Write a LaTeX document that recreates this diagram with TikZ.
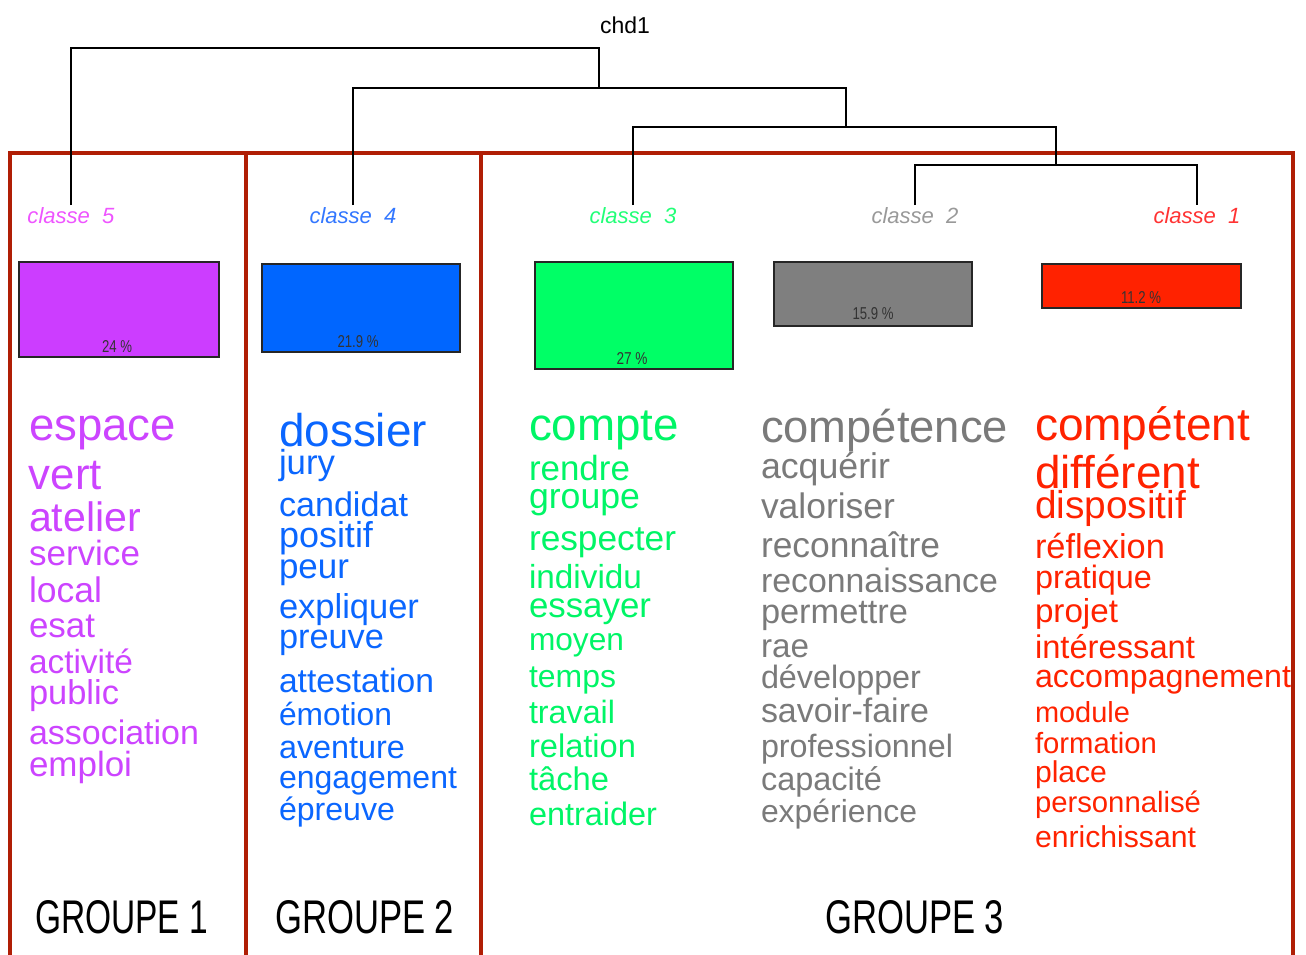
\documentclass[tikz,border=0pt]{standalone}
\usepackage{fontspec}
\setmainfont{Liberation Sans}
\usepackage{graphicx}
\definecolor{framecol}{HTML}{B01E05}
\definecolor{boxA}{HTML}{CC3DFF}
\definecolor{boxB}{HTML}{0066FF}
\definecolor{boxC}{HTML}{00FF66}
\definecolor{boxD}{HTML}{7F7F7F}
\definecolor{boxE}{HTML}{FF2200}
\definecolor{txtA}{HTML}{CC44FF}
\definecolor{txtB}{HTML}{0A66FF}
\definecolor{txtC}{HTML}{00F566}
\definecolor{txtD}{HTML}{7A7A7A}
\definecolor{txtE}{HTML}{FF2200}
\definecolor{labA}{HTML}{EE55FF}
\definecolor{labB}{HTML}{3377FF}
\definecolor{labC}{HTML}{22FF77}
\definecolor{labD}{HTML}{999999}
\definecolor{labE}{HTML}{FF3333}
\begin{document}
\begin{tikzpicture}[x=1pt,y=-1pt,
  wd/.style={anchor=base west,inner sep=0pt,outer sep=0pt,font=\fontsize{40}{40}\selectfont},
  clab/.style={anchor=base,inner sep=0pt,font=\fontsize{22}{22}\selectfont\itshape},
  pct/.style={inner sep=0pt,text=black!80,font=\fontsize{12}{12}\selectfont},
  bar/.style={draw=black!85,line width=1.6pt},
  tree/.style={draw=black,line width=1.3pt},
  frame/.style={draw=framecol,line width=3.6pt},
  grp/.style={anchor=base west,inner sep=0pt,font=\fontsize{40}{40}\selectfont}]
\useasboundingbox (0,0) rectangle (1306,954);

% frame
\draw[frame] (10,958) -- (10,153) -- (1293,153) -- (1293,958);
\draw[frame] (246,153) -- (246,958);
\draw[frame] (481,153) -- (481,958);

% title
\node[anchor=base,inner sep=0pt,font=\fontsize{23}{23}\selectfont] (title) at (625,33) {chd1};

% class labels
\node[clab,text=labA] (cl5) at (71,223) {\resizebox{87pt}{!}{classe~~5}};
\node[clab,text=labB] (cl4) at (353,223) {\resizebox{87pt}{!}{classe~~4}};
\node[clab,text=labC] (cl3) at (633,223) {\resizebox{87pt}{!}{classe~~3}};
\node[clab,text=labD] (cl2) at (915,223) {\resizebox{87pt}{!}{classe~~2}};
\node[clab,text=labE] (cl1) at (1197,223) {\resizebox{87pt}{!}{classe~~1}};

% dendrogram
\coordinate (L5) at (71,205);
\coordinate (L4) at (353,205);
\coordinate (L3) at (633,205);
\coordinate (L2) at (915,205);
\coordinate (L1) at (1197,205);
\coordinate (R) at (599,48);
\coordinate (N1) at (599,88);
\coordinate (N2) at (846,127);
\coordinate (N3) at (1056,165);
\draw[tree] (L5) |- (R) -- (N1);
\draw[tree] (L4) |- (N1) -| (N2);
\draw[tree] (L3) |- (N2) -| (N3);
\draw[tree] (L2) |- (N3) -| (L1);

% bars
\draw[bar,fill=boxA] (19,262) rectangle (219,357);
\node[pct] (p5) at (117,347) {\resizebox{30pt}{12pt}{24 \%}};
\draw[bar,fill=boxB] (262,264) rectangle (460,352);
\node[pct] (p4) at (358,342) {\resizebox{41pt}{12pt}{21.9 \%}};
\draw[bar,fill=boxC] (535,262) rectangle (733,369);
\node[pct] (p3) at (632,359) {\resizebox{31pt}{12pt}{27 \%}};
\draw[bar,fill=boxD] (774,262) rectangle (972,326);
\node[pct] (p2) at (873,314) {\resizebox{41pt}{12pt}{15.9 \%}};
\draw[bar,fill=boxE] (1042,264) rectangle (1241,308);
\node[pct] (p1) at (1141,298) {\resizebox{40pt}{12pt}{11.2 \%}};

% words class 5
\foreach \n/\y/\w/\t in {1/440/147/espace,2/489/73/vert,3/531/112/atelier,4/565/111/service,5/602/73/local,6/637/66/esat,7/673/104/activité,8/704/90/public,9/744/170/association,10/776/103/emploi}
  \node[wd,text=txtA] (a\n) at (29,\y) {\resizebox{\w pt}{!}{\t}};

% words class 4
\foreach \n/\y/\w/\t in {1/446/148/dossier,2/474/56/jury,3/516/129/candidat,4/547/94/positif,5/578/70/peur,6/618/140/expliquer,7/648/105/preuve,8/692/155/attestation,9/725/113/émotion,10/758/126/aventure,11/788/178/engagement,12/820/116/épreuve}
  \node[wd,text=txtB] (b\n) at (279,\y) {\resizebox{\w pt}{!}{\t}};

% words class 3
\foreach \n/\y/\w/\t in {1/440/150/compte,2/480/101/rendre,3/508/111/groupe,4/550/147/respecter,5/588/113/individu,6/617/122/essayer,7/650/95/moyen,8/687/87/temps,9/723/86/travail,10/757/107/relation,11/790/80/tâche,12/825/128/entraider}
  \node[wd,text=txtC] (c\n) at (529,\y) {\resizebox{\w pt}{!}{\t}};

% words class 2
\foreach \n/\y/\w/\t in {1/442/247/compétence,2/478/129/acquérir,3/518/134/valoriser,4/557/179/reconnaître,5/592/237/reconnaissance,6/623/147/permettre,7/657/48/rae,8/688/160/développer,9/722/168/savoir-faire,10/757/192/professionnel,11/790/121/capacité,12/822/156/expérience}
  \node[wd,text=txtD] (d\n) at (761,\y) {\resizebox{\w pt}{!}{\t}};

% words class 1
\foreach \n/\y/\w/\t in {1/440/215/compétent,2/488/165/différent,3/518/151/dispositif,4/558/130/réflexion,5/588/117/pratique,6/622/83/projet,7/658/160/intéressant,8/687/256/accompagnement,9/722/95/module,10/753/122/formation,11/782/72/place,12/812/166/personnalisé,13/847/161/enrichissant}
  \node[wd,text=txtE] (e\n) at (1035,\y) {\resizebox{\w pt}{!}{\t}};

% group labels
\node[grp] (g1) at (35,933) {\resizebox{173pt}{33pt}{GROUPE 1}};
\node[grp] (g2) at (275,933) {\resizebox{179pt}{33pt}{GROUPE 2}};
\node[grp] (g3) at (825,933) {\resizebox{179pt}{33pt}{GROUPE 3}};
\end{tikzpicture}
\end{document}
